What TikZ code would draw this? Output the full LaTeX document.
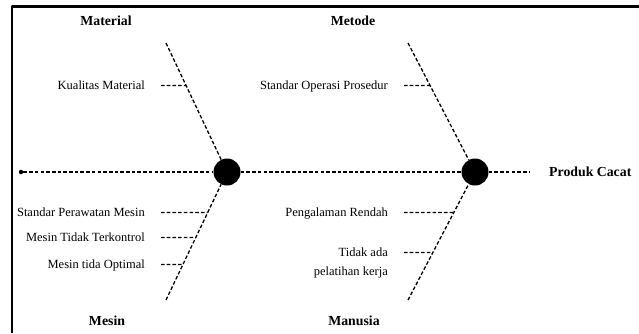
\documentclass[tikz,border=0pt]{standalone}
\usepackage{fontspec}
\setmainfont{Liberation Serif}
\usetikzlibrary{calc}

\begin{document}
\begin{tikzpicture}[x=1pt,y=-1pt, line join=round,
	bone/.style={line width=1.3pt,dash pattern=on 3.6pt off 2.1pt},
	head/.style={circle,fill=black,minimum size=27pt,inner sep=0pt},
	cause/.style={anchor=east,inner xsep=16pt,inner ysep=0pt,text height=8.5pt,text depth=0pt,font=\fontsize{12.5}{15}\selectfont},
	group/.style={inner sep=0pt,text height=9.5pt,text depth=0pt,font=\fontsize{13.8}{16}\selectfont\bfseries}]
	\useasboundingbox (0,0) rectangle (639,333);
	\draw[line width=2.2pt] (639,6.5) -- (12,6.5) -- (12,333);
	% tulang utama
	\node[circle,fill=black,minimum size=4.5pt,inner sep=0pt] (tail) at (21,172) {};
	\node[head] (c1) at (227,172) {};
	\node[head] (c2) at (475,172) {};
	\coordinate (end) at (530,172);
	\node[group,anchor=west] (produk) at (549,171.5) {Produk Cacat};
	\draw[bone] (tail) -- (c1);
	\draw[bone] (c1) -- (c2);
	\draw[bone] (c2) -- (end);
	% kategori
	\coordinate (mat) at (166,43);
	\coordinate (met) at (408,43);
	\coordinate (mes) at (166,300);
	\coordinate (man) at (408,300);
	\draw[bone] (mat) -- (c1);
	\draw[bone] (met) -- (c2);
	\draw[bone] (mes) -- (c1);
	\draw[bone] (man) -- (c2);
	\node[group] (material) at (106,21) {Material};
	\node[group] (metode) at (353,21) {Metode};
	\node[group] (mesin) at (107,321) {Mesin};
	\node[group] (manusia) at (354,321) {Manusia};
	% penyebab
	\node[cause] (kual) at (161,85.5) {Kualitas Material};
	\node[cause] (sop) at (404,85.5) {Standar Operasi Prosedur};
	\node[cause] (rawat) at (161,212.5) {Standar Perawatan Mesin};
	\node[cause] (kontrol) at (161,237.5) {Mesin Tidak Terkontrol};
	\node[cause] (optimal) at (161,264.5) {Mesin tida Optimal};
	\node[cause] (alaman) at (404,212.5) {Pengalaman Rendah};
	\node[cause] (tidak) at (404,252.5) {Tidak ada};
	\node[cause] (latih) at (404,271.5) {pelatihan kerja};
	\draw[bone] (kual.east) -- ($(mat)!0.329!(c1)$);
	\draw[bone] (sop.east) -- ($(met)!0.329!(c2)$);
	\draw[bone] (rawat.east) -- ($(c1)!0.316!(mes)$);
	\draw[bone] (kontrol.east) -- ($(c1)!0.512!(mes)$);
	\draw[bone] (optimal.east) -- ($(c1)!0.723!(mes)$);
	\draw[bone] (alaman.east) -- ($(c2)!0.316!(man)$);
	\draw[bone] (tidak.east) -- ($(c2)!0.629!(man)$);
\end{tikzpicture}
\end{document}
